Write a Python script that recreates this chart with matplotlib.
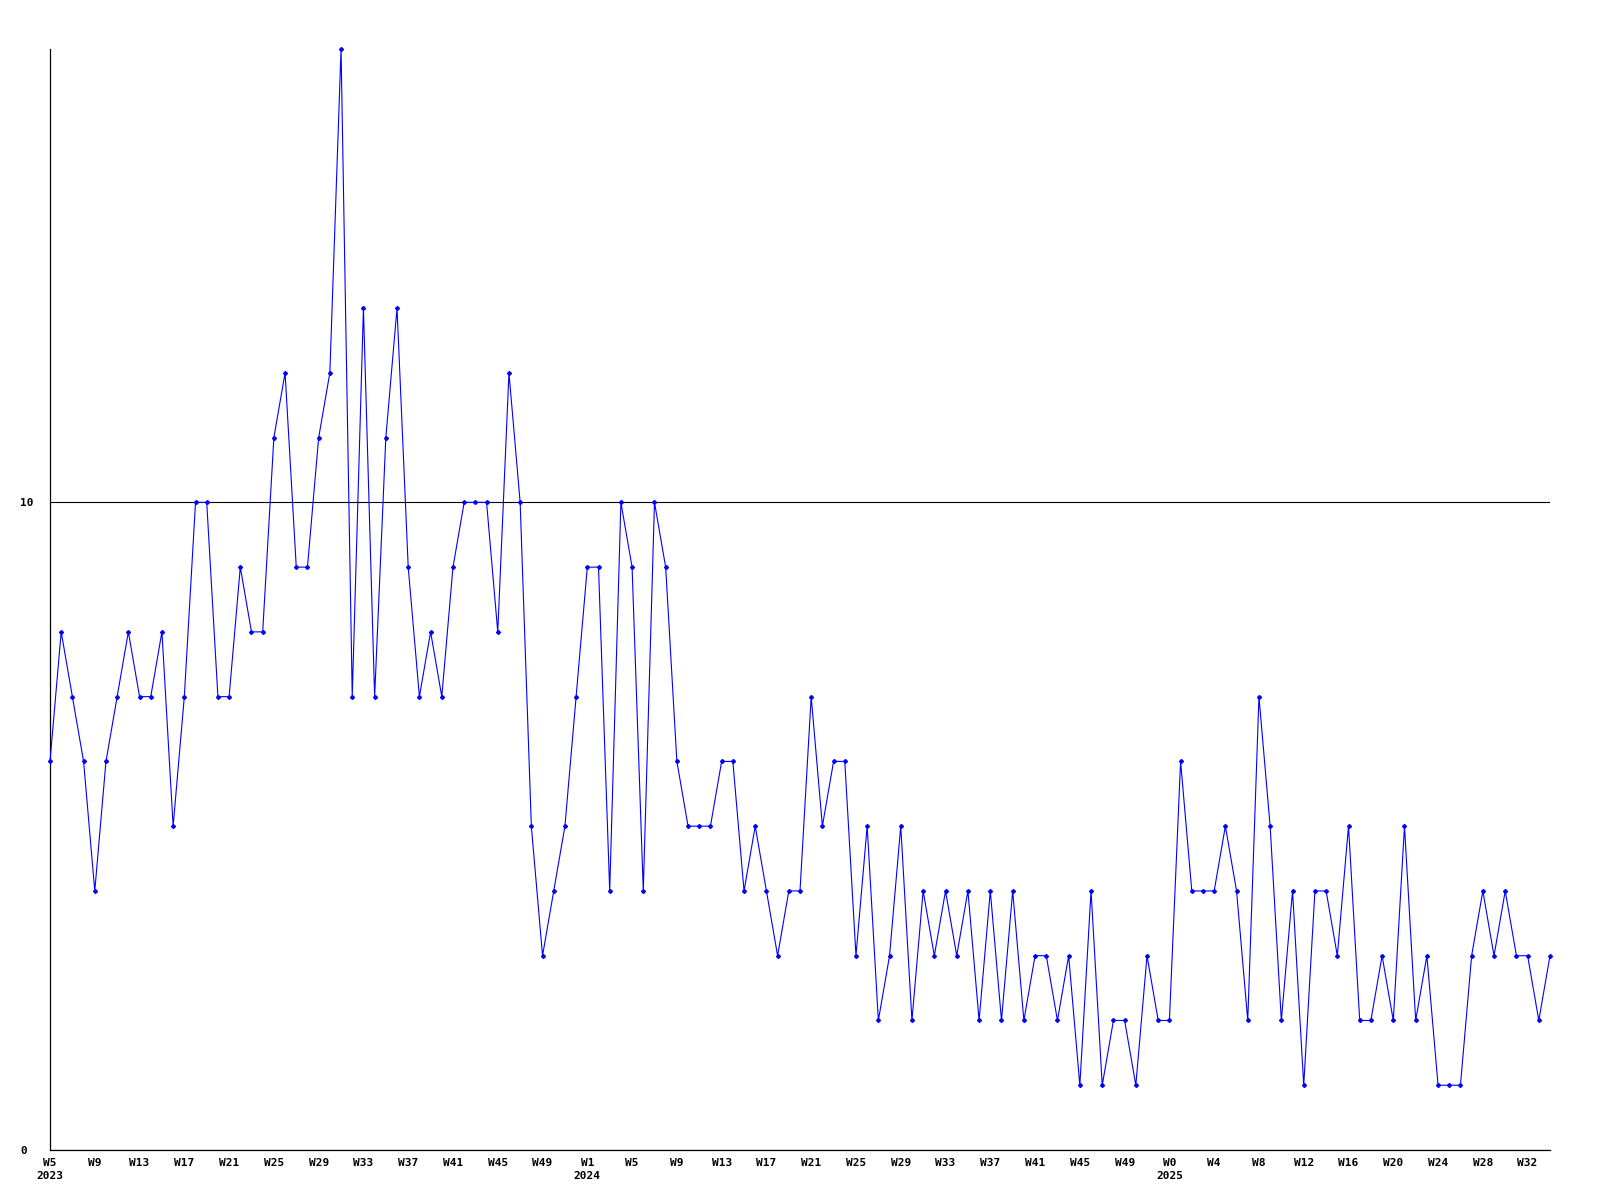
import matplotlib
matplotlib.use('Agg')
import matplotlib.pyplot as plt

# week categories: 2023 W5..W52, 2024 W1..W52, 2025 W0..W34
weeks_2023 = list(range(5, 53))
weeks_2024 = list(range(1, 53))
weeks_2025 = list(range(0, 35))

values_2023 = [6, 8, 7, 6, 4, 6, 7, 8, 7, 7, 8, 5, 7, 10, 10, 7,
               7, 9, 8, 8, 11, 12, 9, 9, 11, 12, 17, 7, 13, 7, 11, 13,
               9, 7, 8, 7, 9, 10, 10, 10, 8, 12, 10, 5, 3, 4, 5, 7]
values_2024 = [9, 9, 4, 10, 9, 4, 10, 9, 6, 5, 5, 5, 6, 6, 4, 5,
               4, 3, 4, 4, 7, 5, 6, 6, 3, 5, 2, 3, 5, 2, 4, 3,
               4, 3, 4, 2, 4, 2, 4, 2, 3, 3, 2, 3, 1, 4, 1, 2,
               2, 1, 3, 2]
values_2025 = [2, 6, 4, 4, 4, 5, 4, 2, 7, 5, 2, 4, 1, 4, 4, 3,
               5, 2, 2, 3, 2, 5, 2, 3, 1, 1, 1, 3, 4, 3, 4, 3,
               3, 2, 3]

values = values_2023 + values_2024 + values_2025
labels = []
for year, weeks in ((2023, weeks_2023), (2024, weeks_2024), (2025, weeks_2025)):
    for k, w in enumerate(weeks):
        labels.append('W%d\n%d' % (w, year) if k == 0 else 'W%d' % w)

x = list(range(len(values)))

fig = plt.figure(figsize=(16, 12), dpi=100)
ax = fig.add_axes([50 / 1600, 50 / 1200, 1500 / 1600, 1101 / 1200])

ax.plot(x, values, color='#0000ff', linewidth=0.8, marker='D', markersize=2.0,
        markerfacecolor='#0000ff', markeredgecolor='#0000ff', clip_on=False, zorder=3)

ax.set_xlim(0, len(values) - 1)
ax.set_ylim(0, 17)

# ticks every 4 weeks
tick_idx = list(range(0, len(values), 4))
ax.set_xticks(tick_idx)
ax.set_xticklabels([labels[i] for i in tick_idx], fontfamily='DejaVu Sans Mono',
                   fontweight='bold', fontsize=8, linespacing=1.45, va='top')
ax.set_yticks([0, 10])
ax.set_yticklabels(['0', '10'], fontfamily='DejaVu Sans Mono', fontweight='bold',
                   fontsize=8, ha='left')
ax.tick_params(axis='x', length=0, pad=5.5)
ax.tick_params(axis='y', length=0, pad=21.6)

ax.grid(axis='y', color='black', linewidth=0.8)
ax.set_axisbelow(True)

for side in ('top', 'right'):
    ax.spines[side].set_visible(False)
for side in ('left', 'bottom'):
    ax.spines[side].set_color('black')
    ax.spines[side].set_linewidth(0.9)

plt.savefig('out.png', dpi=100)
